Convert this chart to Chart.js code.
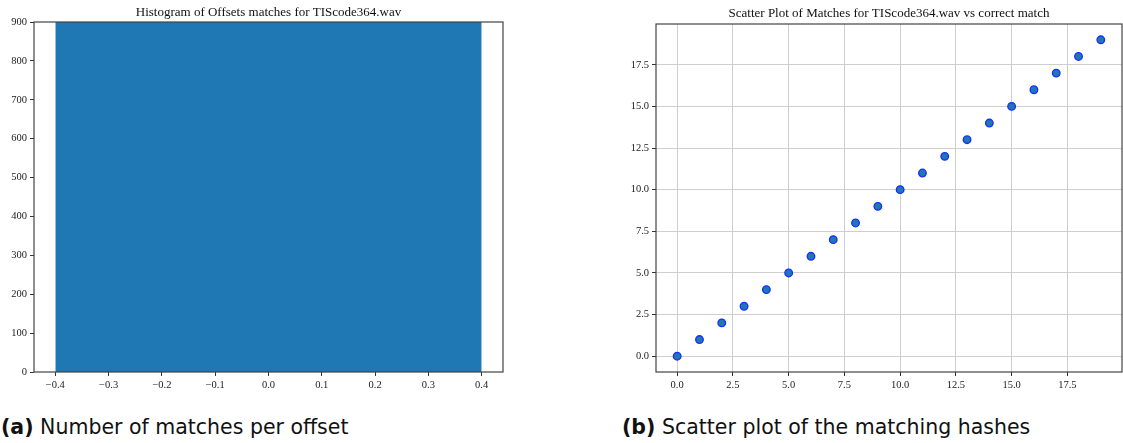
<!DOCTYPE html>
<html>
<head>
<meta charset="utf-8">
<script src="https://cdn.jsdelivr.net/npm/chart.js@4.4.1/dist/chart.umd.min.js"></script>
<style>
  html, body { margin:0; padding:0; background:#fff; width:1123px; height:443px; overflow:hidden; position:relative; }
  canvas { position:absolute; top:0; }
  #c1 { left:0; }
  #c2 { left:616px; }
  .cap { position:absolute; font-family:"DejaVu Sans", sans-serif; font-size:20.5px; line-height:22px; color:#111; white-space:nowrap; }
  .cap b { font-weight:bold; }
</style>
</head>
<body>
<canvas id="c1" width="537" height="400"></canvas>
<canvas id="c2" width="546" height="400"></canvas>
<div class="cap" style="left:1px; top:416px;"><b>(a)</b> Number of matches per offset</div>
<div class="cap" style="left:622px; top:416px;"><b>(b)</b> Scatter plot of the matching hashes</div>
<script>
// ---- data ----
const histTitle = "Histogram of Offsets matches for TIScode364.wav";
const histBinEdges = [-0.4, 0.4];
const histCounts = [900];
const histXTicks = [-0.4, -0.3, -0.2, -0.1, 0.0, 0.1, 0.2, 0.3, 0.4];
const histYTicks = [0, 100, 200, 300, 400, 500, 600, 700, 800, 900];

const scatterTitle = "Scatter Plot of Matches for TIScode364.wav vs correct match";
const scatterX = [0, 1, 2, 3, 4, 5, 6, 7, 8, 9, 10, 11, 12, 13, 14, 15, 16, 17, 18, 19];
const scatterY = [0, 1, 2, 3, 4, 5, 6, 7, 8, 9, 10, 11, 12, 13, 14, 15, 16, 17, 18, 19];
const scatterXTicks = [0.0, 2.5, 5.0, 7.5, 10.0, 12.5, 15.0, 17.5];
const scatterYTicks = [0.0, 2.5, 5.0, 7.5, 10.0, 12.5, 15.0, 17.5];

// ---- helpers ----
const fmt = (d) => (v) => { const s = Math.abs(v).toFixed(d); return (v < -1e-9 ? "\u2212" : "") + s; };
const setTicks = (arr) => (scale) => { scale.ticks = arr.map(v => ({ value: v })); };
const tickFont = { family: "Liberation Serif", size: 10.5 };
const titleFont = { family: "Liberation Serif", size: 13, weight: "normal" };

const framePlugin = {
  id: "frame",
  afterDraw(chart) {
    const a = chart.chartArea, ctx = chart.ctx;
    ctx.save();
    ctx.strokeStyle = "#444";
    ctx.lineWidth = 1.2;
    ctx.strokeRect(a.left, a.top, a.right - a.left, a.bottom - a.top);
    ctx.restore();
  }
};

function dummyRight(w) {
  return {
    type: "linear", position: "right", display: true,
    grid: { display: false, drawTicks: false },
    border: { display: false },
    ticks: { display: false },
    afterFit(s) { s.width = w; }
  };
}

// ---- histogram ----
const histPoints = [];
histCounts.forEach((c, i) => {
  histPoints.push({ x: histBinEdges[i], y: c });
  histPoints.push({ x: histBinEdges[i + 1], y: c });
});

new Chart(document.getElementById("c1"), {
  type: "scatter",
  data: {
    datasets: [{
      data: histPoints,
      showLine: true,
      fill: "origin",
      backgroundColor: "#1f77b4",
      borderColor: "#1f77b4",
      borderWidth: 0,
      pointRadius: 0,
      tension: 0
    }]
  },
  options: {
    responsive: false,
    animation: false,
    layout: { padding: 0 },
    plugins: {
      legend: { display: false },
      tooltip: { enabled: false },
      title: { display: true, text: histTitle, font: titleFont, color: "#111", padding: { top: 5, bottom: 1.4 } }
    },
    scales: {
      x: {
        type: "linear", min: -0.44, max: 0.44,
        afterBuildTicks: setTicks(histXTicks),
        ticks: { callback: fmt(1), font: tickFont, color: "#222", padding: 3, maxRotation: 0, autoSkip: false },
        grid: { drawOnChartArea: false, tickLength: 4, tickColor: "#333" },
        border: { display: false },
        afterFit(s) { s.height = 28; }
      },
      y: {
        type: "linear", min: 0, max: 900,
        afterBuildTicks: setTicks(histYTicks),
        ticks: { callback: fmt(0), font: tickFont, color: "#222", padding: 3, autoSkip: false },
        grid: { drawOnChartArea: false, tickLength: 4, tickColor: "#333" },
        border: { display: false },
        afterFit(s) { s.width = 34; }
      },
      y2: dummyRight(34)
    }
  },
  plugins: [framePlugin]
});

// ---- scatter ----
new Chart(document.getElementById("c2"), {
  type: "scatter",
  data: {
    datasets: [{
      data: scatterX.map((x, i) => ({ x: x, y: scatterY[i] })),
      backgroundColor: "#1f77b4",
      borderColor: "#1a2cff",
      borderWidth: 1.3,
      pointRadius: 3.8
    }]
  },
  options: {
    responsive: false,
    animation: false,
    layout: { padding: 0 },
    plugins: {
      legend: { display: false },
      tooltip: { enabled: false },
      title: { display: true, text: scatterTitle, font: titleFont, color: "#111", padding: { top: 6, bottom: 2.4 } }
    },
    scales: {
      x: {
        type: "linear", min: -0.95, max: 19.95,
        afterBuildTicks: setTicks(scatterXTicks),
        ticks: { callback: fmt(1), font: tickFont, color: "#222", padding: 3, maxRotation: 0, autoSkip: false },
        grid: { color: "#cfcfcf", lineWidth: 1, tickLength: 4, tickColor: "#333" },
        border: { display: false },
        afterFit(s) { s.height = 28; }
      },
      y: {
        type: "linear", min: -0.95, max: 19.95,
        afterBuildTicks: setTicks(scatterYTicks),
        ticks: { callback: fmt(1), font: tickFont, color: "#222", padding: 3, autoSkip: false },
        grid: { color: "#cfcfcf", lineWidth: 1, tickLength: 4, tickColor: "#333" },
        border: { display: false },
        afterFit(s) { s.width = 40; }
      },
      y2: dummyRight(40)
    }
  },
  plugins: [framePlugin]
});
</script>
</body>
</html>
